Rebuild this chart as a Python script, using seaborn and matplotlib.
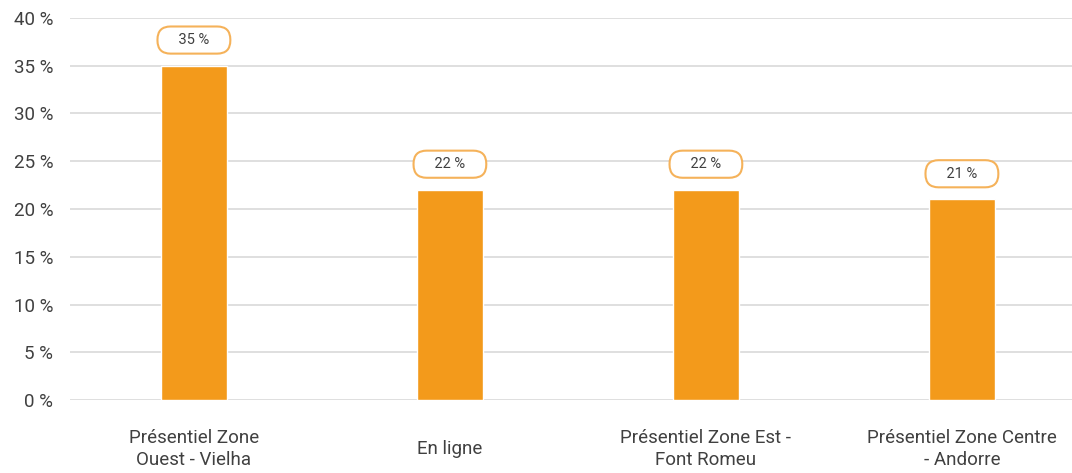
import matplotlib
matplotlib.use("Agg")
import matplotlib.pyplot as plt
import seaborn as sns
import pandas as pd

# data
categories = ["Présentiel Zone\nOuest - Vielha", "En ligne",
              "Présentiel Zone Est -\nFont Romeu", "Présentiel Zone Centre\n- Andorre"]
values = [35, 22, 22, 21]
y_ticks = [0, 5, 10, 15, 20, 25, 30, 35, 40]

df = pd.DataFrame({"cat": categories, "val": values})

sns.set_style("white")
plt.rcParams["font.family"] = ["Roboto", "DejaVu Sans"]

fig = plt.figure(figsize=(10.72, 4.73), dpi=100)
ax = fig.add_axes([70 / 1072, 1 - 400 / 473, 1 - 70 / 1072, (400 - 18) / 473])

sns.barplot(data=df, x="cat", y="val", color="#F39A1B", saturation=1, width=0.26, ax=ax)

ax.set_ylim(0, 40)
ax.set_xlim(-0.484, 3.43)
ax.set_yticks(y_ticks)
ax.set_yticklabels([f"{t} %" for t in y_ticks], fontsize=13.5, color="#404040")
ax.yaxis.grid(True, color="#d9d9d9", linewidth=1.2)
ax.set_axisbelow(True)
for s in ax.spines.values():
    s.set_visible(False)
ax.tick_params(axis="both", length=0)
ax.tick_params(axis="y", pad=12)
ax.tick_params(axis="x", pad=35)
for lbl in ax.get_xticklabels():
    lbl.set_fontsize(13.5)
    lbl.set_color("#404040")
    lbl.set_va("center")
    lbl.set_linespacing(1.3)
ax.set_xlabel("")
ax.set_ylabel("")

for i, v in enumerate(values):
    ax.annotate(f"    {v} %    ", xy=(i, v), xytext=(0, 18.5), textcoords="offset points",
                ha="center", va="center", fontsize=10.5, color="#404040",
                bbox=dict(boxstyle="round,pad=0.45,rounding_size=0.9", fc="white",
                          ec="#F5B25A", lw=1.5), annotation_clip=False)

fig.savefig("out.png", dpi=100)
